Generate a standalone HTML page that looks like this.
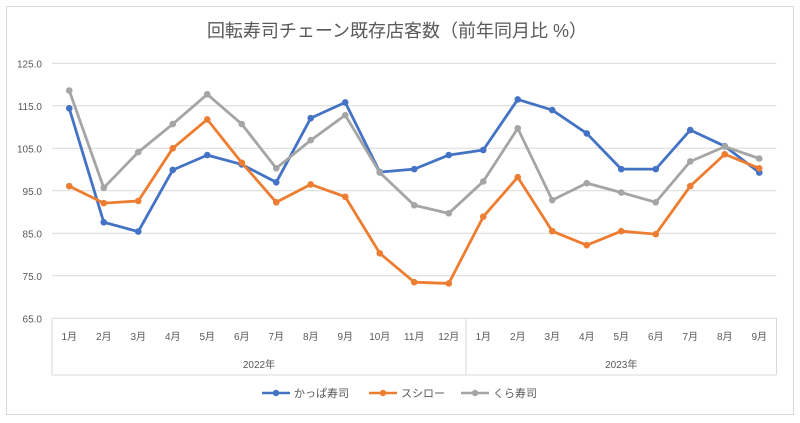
<!DOCTYPE html>
<html><head><meta charset="utf-8"><style>
body{margin:0;background:#fff;}
svg{display:block;font-family:"Liberation Sans","Noto Sans CJK JP",sans-serif;}
</style></head><body>
<svg id="chart" width="800" height="423">
<rect x="6.5" y="6.5" width="787" height="408" fill="#fff" stroke="#d9d9d9"/>
<text x="397" y="37" text-anchor="middle" font-size="18" fill="#595959">回転寿司チェーン既存店客数（前年同月比 %）</text>
<g id="grid"></g><g id="axes"></g><g id="series"></g>
<g font-size="11" fill="#595959">
<g><line x1="262" y1="393" x2="290" y2="393" stroke="#4472c4" stroke-width="2.5"/><circle cx="276" cy="393" r="3.2" fill="#4472c4"/><text x="294" y="397">かっぱ寿司</text></g>
<g><line x1="369" y1="393" x2="397" y2="393" stroke="#ed7d31" stroke-width="2.5"/><circle cx="383" cy="393" r="3.2" fill="#ed7d31"/><text x="401" y="397">スシロー</text></g>
<g><line x1="461" y1="393" x2="489" y2="393" stroke="#a5a5a5" stroke-width="2.5"/><circle cx="475" cy="393" r="3.2" fill="#a5a5a5"/><text x="493" y="397">くら寿司</text></g>
</g>
</svg>
<script>
const months=["1月","2月","3月","4月","5月","6月","7月","8月","9月","10月","11月","12月","1月","2月","3月","4月","5月","6月","7月","8月","9月"];
const years=["2022年","2023年"];
const yearCounts=[12,9];
const yTicks=[65,75,85,95,105,115,125];
const kappa=[114.4,87.6,85.4,99.9,103.4,101.2,97.0,112.1,115.8,99.4,100.1,103.4,104.6,116.5,114.0,108.5,100.1,100.1,109.3,105.5,99.3];
const sushiro=[96.1,92.1,92.6,105.0,111.8,101.6,92.3,96.5,93.6,80.3,73.5,73.2,88.9,98.2,85.5,82.2,85.5,84.8,96.1,103.6,100.3];
const kura=[118.6,95.7,104.1,110.7,117.7,110.7,100.3,106.9,112.8,99.3,91.6,89.7,97.2,109.7,92.8,96.8,94.6,92.3,101.9,105.4,102.6];
const NS="http://www.w3.org/2000/svg";
const L=52,R=776.5,T=63.3,B=318.3,ymin=65,ymax=125;
const bw=(R-L)/months.length;
const xS=i=>L+bw*(i+0.5);
const yS=v=>B-(v-ymin)/(ymax-ymin)*(B-T);
function mk(tag,attrs,parent){const e=document.createElementNS(NS,tag);for(const k in attrs)e.setAttribute(k,attrs[k]);parent.appendChild(e);return e;}
const grid=document.getElementById('grid'),axes=document.getElementById('axes'),ser=document.getElementById('series');
yTicks.forEach(v=>{
 const y=yS(v);
 if(v>ymin){const g=mk('line',{x1:L,x2:R,y1:y,y2:y,stroke:'#d9d9d9','stroke-width':1},grid);
 
 }
 const t=mk('text',{x:42,y:y+4,'text-anchor':'end','font-size':10,fill:'#595959'},axes);t.textContent=v.toFixed(1);
 
 
});
const ax=mk('line',{x1:L,x2:R,y1:B,y2:B,stroke:'#d9d9d9'},axes);


mk('line',{x1:L,x2:L,y1:B,y2:375,stroke:'#d9d9d9'},axes);
mk('line',{x1:L,x2:R,y1:375,y2:375,stroke:'#d9d9d9'},axes);
months.forEach((m,i)=>{
 const t=mk('text',{x:xS(i),y:340,'text-anchor':'middle','font-size':10,fill:'#595959'},axes);t.textContent=m;
 
 
});
let start=0;
years.forEach((yr,j)=>{
 const end=start+yearCounts[j];
 const xe=L+bw*end;
 mk('line',{x1:xe,x2:xe,y1:B,y2:375,stroke:'#d9d9d9'},axes);
 const t=mk('text',{x:L+bw*(start+end)/2,y:368,'text-anchor':'middle','font-size':10,fill:'#595959'},axes);t.textContent=yr;
 
 
 start=end;
});
function drawSeries(data,color,name){
 const g=mk('g',{},ser);
 
 
 const p=mk('polyline',{points:data.map((v,i)=>xS(i)+','+yS(v)).join(' '),fill:'none',stroke:color,'stroke-width':2.8,'stroke-linejoin':'round'},g);
 
 
 data.forEach((v,i)=>{const c=mk('circle',{cx:xS(i),cy:yS(v),r:3.3,fill:color},g);
 
 });
}
drawSeries(kappa,'#4472c4','kappa-series');
drawSeries(sushiro,'#ed7d31','sushiro-series');
drawSeries(kura,'#a5a5a5','kura-series');
</script>
</body></html>
